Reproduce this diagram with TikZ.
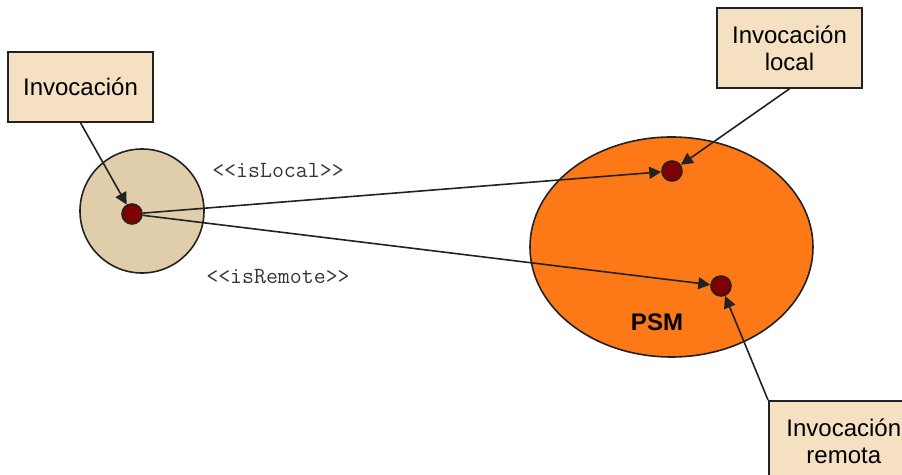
\documentclass[tikz,border=0pt]{standalone}
\usepackage{fontspec}
\setmainfont{Liberation Sans}
\usepackage{tikz}
\usetikzlibrary{shapes,shapes.geometric,arrows.meta,positioning}
\definecolor{boxfill}{RGB}{245,225,193}
\definecolor{discfill}{RGB}{224,206,170}
\definecolor{psmfill}{RGB}{253,121,23}
\definecolor{dotfill}{RGB}{128,0,0}
\definecolor{linecol}{RGB}{34,34,34}
\tikzset{
  box/.style={draw=linecol, line width=0.8pt, fill=boxfill, minimum width=72.5pt, text centered, align=center, font=\fontsize{12}{13.5}\selectfont},
  disc/.style={circle, draw=linecol, line width=0.8pt, fill=discfill, minimum size=62pt, inner sep=0pt},
  psm/.style={ellipse, draw=linecol, line width=0.8pt, fill=psmfill, minimum width=141.5pt, minimum height=110pt, inner sep=0pt},
  dot/.style={circle, draw=linecol, line width=0.8pt, fill=dotfill, minimum size=10pt, inner sep=0pt},
  stereo/.style={font=\ttfamily\fontsize{11.6}{13}\selectfont, text=linecol!90},
  arr/.style={draw=linecol, line width=0.8pt, -{Triangle[length=6pt,width=6pt]}}
}

\begin{document}
\begin{tikzpicture}[x=0.5pt, y=-0.5pt]
    \useasboundingbox (0,0) rectangle (902,475);
    % left side
    \node[disc] (circ) at (142,211) {};
    \node[dot] (d1) at (132,214) {};
    \node[box, minimum height=35pt] (inv) at (80.5,87) {Invocación};
    % PSM
    \node[psm] (ell) at (671.5,247) {};
    \node[font=\bfseries\fontsize{12}{14}\selectfont] (lbl) at (657,322) {PSM};
    \node[dot] (d2) at (672,171) {};
    \node[dot] (d3) at (721,286) {};
    \node[box, minimum height=40pt] (loc) at (789.5,48) {Invocación\\local};
    \node[box, minimum height=40pt, minimum width=75pt, anchor=north west] (rem) at (768,400) {Invocación\\remota};
    % stereotypes
    \node[stereo] (islocal) at (278,170) {\textless\textless isLocal\textgreater\textgreater};
    \node[stereo] (isremote) at (278,277) {\textless\textless isRemote\textgreater\textgreater};
    % connectors
    \draw[arr] (inv.south) -- (d1);
    \draw[arr] (d1) -- (d2);
    \draw[arr] (d1) -- (d3);
    \draw[arr] (loc.south) -- (d2);
    \draw[arr] (rem.north west) -- (d3);
\end{tikzpicture}
\end{document}
